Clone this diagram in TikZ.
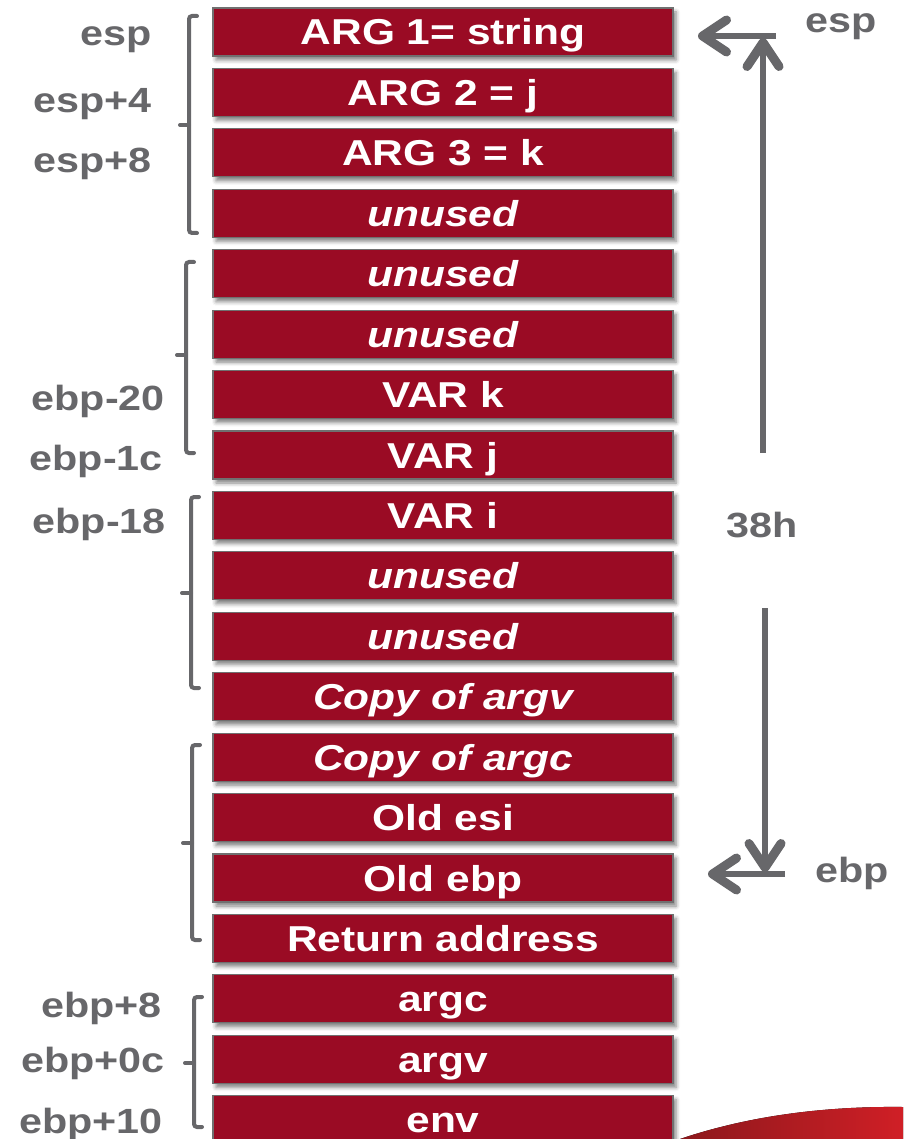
\documentclass[tikz,border=0pt]{standalone}
\usepackage{fontspec}
\setmainfont{Liberation Sans}[FakeStretch=1.18]
\usetikzlibrary{arrows.meta,shadows.blur,calc}

\definecolor{stackred}{RGB}{154,11,36}
\definecolor{edgegray}{RGB}{112,112,112}
\definecolor{inkgray}{RGB}{103,103,106}
\definecolor{swooshdark}{RGB}{140,24,28}
\definecolor{swooshlight}{RGB}{208,31,38}

\tikzset{
  slot/.style={rectangle, fill=stackred, draw=edgegray, line width=1.2pt,
    minimum width=460pt, minimum height=48pt, inner sep=0pt, text=white,
    font=\fontsize{36}{40}\selectfont\bfseries, text height=26pt, text depth=0pt,
    blur shadow={shadow xshift=3pt, shadow yshift=-4pt, shadow blur radius=4pt, shadow opacity=50}},
  emptyslot/.style={slot, font=\fontsize{36}{40}\selectfont\bfseries\itshape},
  tag/.style={text=inkgray, font=\fontsize{35}{40}\selectfont\bfseries, inner sep=0pt},
  bracket/.style={draw=inkgray, line width=4pt, rounded corners=3pt, line cap=round},
  pointer/.style={draw=inkgray, line width=6.5pt,
    -{Straight Barb[length=24pt,width=32pt,line width=9pt,round]}},
}

\begin{document}
\begin{tikzpicture}[x=1pt,y=-1pt]
\useasboundingbox (0,0) rectangle (903,1139);

% decorative swoosh in the lower right corner
\fill[left color=swooshdark, right color=swooshlight]
  (680,1139) .. controls (745,1117) and (820,1106) .. (903,1107) -- (903,1139) -- cycle;

% stack slots, top (low address) to bottom
\node[slot]      (s0)  at (443,32)     {ARG 1= string};
\node[slot]      (s1)  at (443,92.43)  {ARG 2 = j};
\node[slot]      (s2)  at (443,152.86) {ARG 3 = k};
\node[emptyslot] (s3)  at (443,213.29) {unused};
\node[emptyslot] (s4)  at (443,273.72) {unused};
\node[emptyslot] (s5)  at (443,334.15) {unused};
\node[slot]      (s6)  at (443,394.58) {VAR k};
\node[slot]      (s7)  at (443,455.01) {VAR j};
\node[slot]      (s8)  at (443,515.44) {VAR i};
\node[emptyslot] (s9)  at (443,575.87) {unused};
\node[emptyslot] (s10) at (443,636.30) {unused};
\node[emptyslot] (s11) at (443,696.73) {Copy of argv};
\node[emptyslot] (s12) at (443,757.16) {Copy of argc};
\node[slot]      (s13) at (443,817.59) {Old esi};
\node[slot]      (s14) at (443,878.02) {Old ebp};
\node[slot]      (s15) at (443,938.45) {Return address};
\node[slot]      (s16) at (443,998.88) {argc};
\node[slot]      (s17) at (443,1059.31) {argv};
\node[slot]      (s18) at (443,1119.74) {env};

% offset labels on the left
\node[tag, anchor=base east] (l0) at (152,46)   {esp};
\node[tag, anchor=base east] (l1) at (152,113)  {esp+4};
\node[tag, anchor=base east] (l2) at (152,173)  {esp+8};
\node[tag, anchor=base east] (l3) at (165,410)  {ebp-20};
\node[tag, anchor=base east] (l4) at (163,470)  {ebp-1c};
\node[tag, anchor=base east] (l5) at (166,533)  {ebp-18};
\node[tag, anchor=base east] (l6) at (162,1017) {ebp+8};
\node[tag, anchor=base east] (l7) at (165,1072) {ebp+0c};
\node[tag, anchor=base east] (l8) at (163,1133) {ebp+10};

% group brackets
\draw[bracket] (197,16) -- (189,16) -- (189,233) -- (197,233);
\draw[bracket] (189,125) -- (180,125);
\draw[bracket] (194,262) -- (186,262) -- (186,453) -- (194,453);
\draw[bracket] (186,355) -- (177,355);
\draw[bracket] (199,497) -- (191,497) -- (191,688) -- (199,688);
\draw[bracket] (191,593) -- (182,593);
\draw[bracket] (200,745) -- (192,745) -- (192,940) -- (200,940);
\draw[bracket] (192,843) -- (183,843);
\draw[bracket] (202,997) -- (194,997) -- (194,1127) -- (202,1127);
\draw[bracket] (194,1063) -- (185,1063);

% frame size markers on the right
\coordinate (espbar) at (776,36);
\coordinate (esptip) at (698,36);
\coordinate (upfoot) at (763,453);
\coordinate (uptip)  at (763,38);
\coordinate (ebpbar) at (785,874);
\coordinate (ebptip) at (708,874);
\coordinate (dnfoot) at (765,608);
\coordinate (dntip)  at (765,872);

\draw[pointer] (espbar) -- (esptip);
\draw[pointer] (upfoot) -- (uptip);
\draw[pointer] (ebpbar) -- (ebptip);
\draw[pointer] (dnfoot) -- (dntip);

\node[tag, anchor=base west] (resp) at (805,33)  {esp};
\node[tag, anchor=base west] (rebp) at (815,882) {ebp};
\node[tag, anchor=base west] (size) at (726,537) {38h};
\end{tikzpicture}
\end{document}
